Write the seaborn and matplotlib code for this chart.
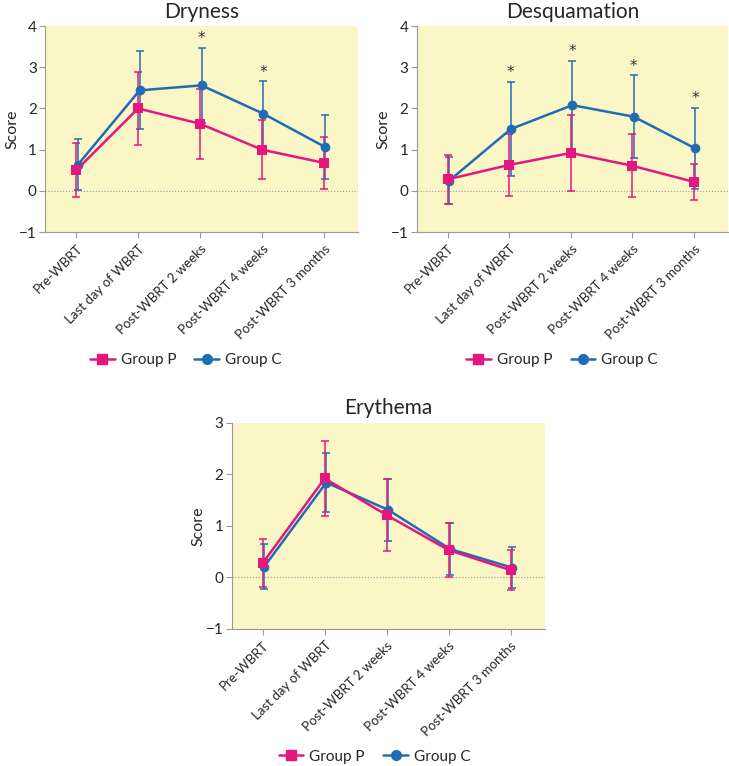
import numpy as np
import pandas as pd
import matplotlib.pyplot as plt
import seaborn as sns
from matplotlib.lines import Line2D

timepoints = ['Pre-WBRT', 'Last day of WBRT', 'Post-WBRT 2 weeks',
              'Post-WBRT 4 weeks', 'Post-WBRT 3 months']

# Dryness
dry_p = [0.50, 2.00, 1.63, 1.00, 0.68]
dry_p_err = [0.65, 0.88, 0.85, 0.71, 0.63]
dry_c = [0.63, 2.44, 2.56, 1.87, 1.06]
dry_c_err = [0.62, 0.95, 0.91, 0.79, 0.77]
dry_star = [2, 3]

# Desquamation
desq_p = [0.28, 0.63, 0.92, 0.61, 0.22]
desq_p_err = [0.60, 0.75, 0.92, 0.77, 0.44]
desq_c = [0.25, 1.50, 2.08, 1.80, 1.03]
desq_c_err = [0.57, 1.14, 1.07, 1.00, 0.98]
desq_star = [1, 2, 3, 4]

# Erythema
ery_p = [0.28, 1.92, 1.21, 0.53, 0.14]
ery_p_err = [0.47, 0.73, 0.70, 0.52, 0.39]
ery_c = [0.21, 1.84, 1.31, 0.55, 0.19]
ery_c_err = [0.43, 0.58, 0.60, 0.50, 0.40]
ery_star = []

pink = '#e5177f'
blue = '#1f6db4'
bg = '#fbf6c6'

sns.set_style('ticks')
plt.rcParams['font.family'] = ['Lato', 'DejaVu Sans']

fig = plt.figure(figsize=(7.29, 7.66), dpi=100)


def panel(rect, title, p, p_err, c, c_err, stars, ylim, ticks):
    ax = fig.add_axes(rect)
    ax.set_facecolor(bg)
    x = np.arange(len(timepoints))
    df = pd.DataFrame({
        'pos': np.concatenate([x + 0.025, x]),
        'score': c + p,
        'group': ['Group C'] * len(c) + ['Group P'] * len(p),
    })
    sns.lineplot(data=df, x='pos', y='score', hue='group', style='group',
                 hue_order=['Group C', 'Group P'],
                 palette={'Group P': pink, 'Group C': blue},
                 markers={'Group P': 's', 'Group C': 'o'}, dashes=False,
                 markersize=7, markeredgewidth=0, linewidth=1.8,
                 legend=False, ax=ax, zorder=3)
    ax.errorbar(x + 0.025, c, yerr=c_err, fmt='none', ecolor=blue,
                elinewidth=1.1, capsize=3, capthick=1.1, zorder=2)
    ax.errorbar(x, p, yerr=p_err, fmt='none', ecolor=pink,
                elinewidth=1.1, capsize=3, capthick=1.1, zorder=2)
    for i in stars:
        ax.text(i + 0.025, c[i] + c_err[i] + 0.04, '*', ha='center',
                va='bottom', fontsize=11, color='#333333',
                family='DejaVu Sans')
    ax.axhline(0, color='#999999', lw=0.8, ls=':', zorder=1)
    ax.set_xlim(-0.5, 4.55)
    ax.set_ylim(*ylim)
    ax.set_yticks(ticks)
    ax.set_yticklabels([str(t).replace('-', '\u2212') for t in ticks])
    ax.set_xticks(x)
    ax.set_xticklabels(timepoints, rotation=45, ha='right',
                       rotation_mode='anchor', fontsize=9.5)
    ax.set_xlabel('')
    ax.set_ylabel('Score', fontsize=11.5, labelpad=0)
    ax.set_title(title, fontsize=15, pad=6)
    ax.tick_params(axis='y', labelsize=11, pad=2)
    ax.tick_params(color='#999999', length=4)
    for s in ['top', 'right']:
        ax.spines[s].set_visible(False)
    for s in ['left', 'bottom']:
        ax.spines[s].set_color('#999999')
    return ax


panel([0.062, 0.697, 0.429, 0.269], 'Dryness', dry_p, dry_p_err,
      dry_c, dry_c_err, dry_star, (-1, 4), [-1, 0, 1, 2, 3, 4])
panel([0.572, 0.697, 0.426, 0.269], 'Desquamation', desq_p, desq_p_err,
      desq_c, desq_c_err, desq_star, (-1, 4), [-1, 0, 1, 2, 3, 4])
panel([0.318, 0.179, 0.429, 0.269], 'Erythema', ery_p, ery_p_err,
      ery_c, ery_c_err, ery_star, (-1, 3), [-1, 0, 1, 2, 3])

handles = [Line2D([], [], color=pink, marker='s', markersize=7, lw=1.8),
           Line2D([], [], color=blue, marker='o', markersize=7, lw=1.8)]
labels = ['Group P', 'Group C']
for cx, cy in [(0.255, 0.53), (0.771, 0.53), (0.514, 0.012)]:
    fig.legend(handles, labels, loc='center', bbox_to_anchor=(cx, cy),
               ncol=2, frameon=False, fontsize=11, handlelength=1.6,
               handletextpad=0.4, columnspacing=1.2)

fig.savefig('out.png', dpi=100)
